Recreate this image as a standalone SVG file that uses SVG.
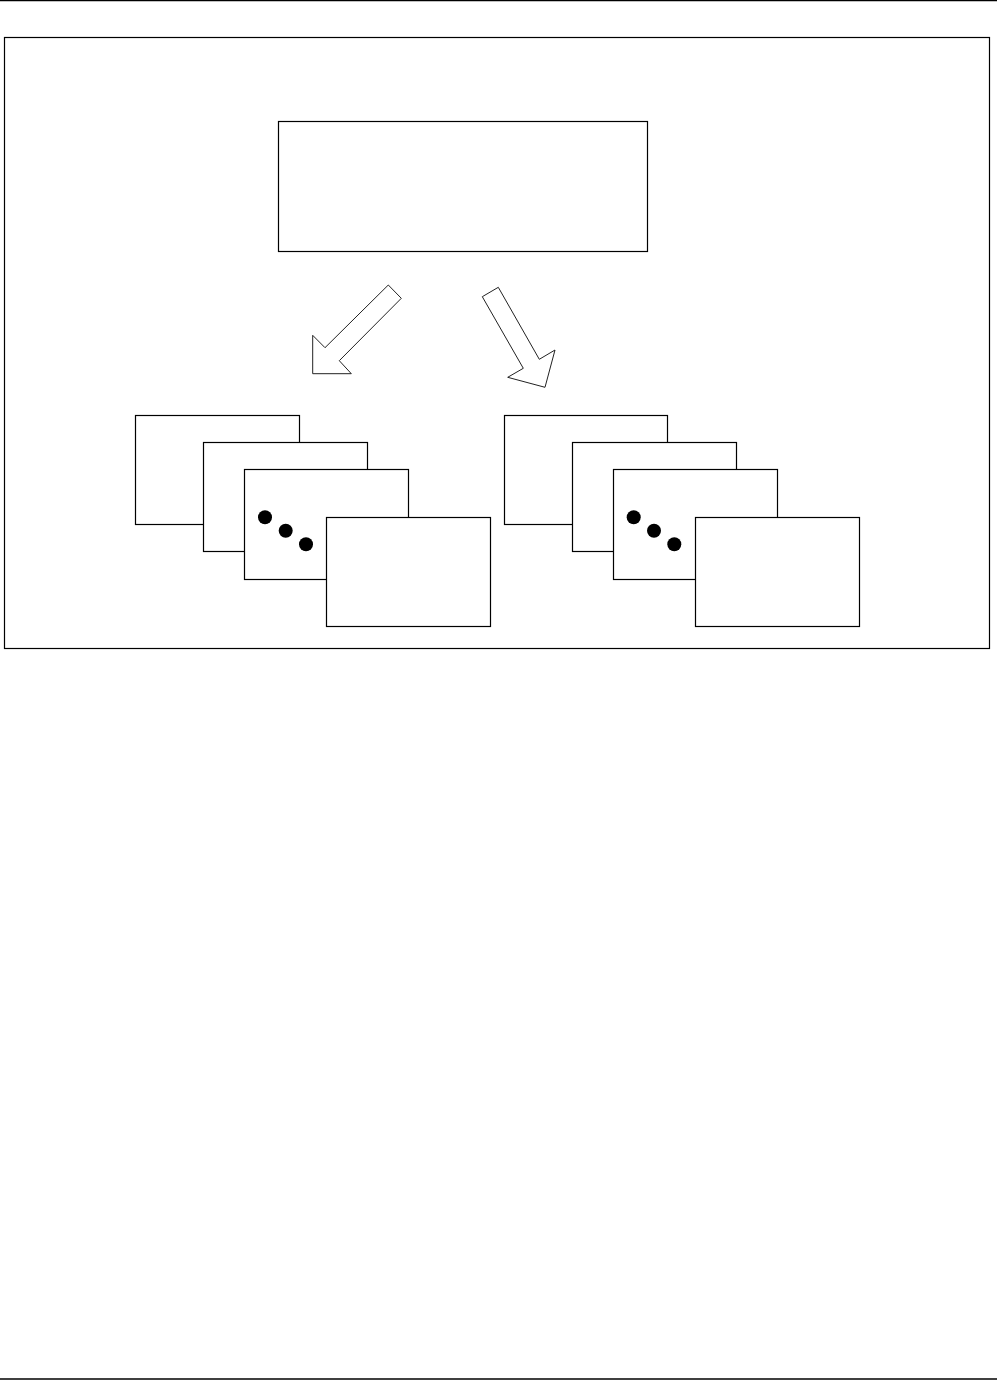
<svg xmlns="http://www.w3.org/2000/svg" width="997" height="1380" viewBox="0 0 997 1380">
<style>
.box{fill:#fff;stroke:#000;stroke-width:1.2}
.arrow{fill:#fff;stroke:#222;stroke-width:1}
.dot{fill:#000}
</style>
<rect width="997" height="1380" fill="#fff"/>
<line x1="0" y1="0.5" x2="997" y2="0.5" stroke="#000" stroke-width="1.5"/>
<line x1="0" y1="1379" x2="997" y2="1379" stroke="#000" stroke-width="1.5"/>
<rect id="frame" x="4.5" y="37.5" width="985" height="611" fill="none" stroke="#000" stroke-width="1.2"/>
<g id="top-box"><rect class="box" x="278.5" y="121.5" width="369" height="130"/></g>
<g id="connectors">
<polygon class="arrow" points="388.3,285 401.3,298.3 339.3,360.7 351.3,373.7 312.7,373.7 312.7,335.3 325,347.7"/>
<polygon class="arrow" points="482.3,296.7 498.3,287.3 539.3,359.3 555,350 545,387.3 507.7,377.3 523.3,368.3"/>
</g>
<g id="left-stack">
<rect class="box" x="135.5" y="415.5" width="164" height="109"/>
<rect class="box" x="203.5" y="442.5" width="164" height="109"/>
<rect class="box" x="244.5" y="469.5" width="164" height="110"/>
<circle class="dot" cx="265" cy="517.3" r="7"/>
<circle class="dot" cx="285.7" cy="530.7" r="7"/>
<circle class="dot" cx="306" cy="544.3" r="7"/>
<rect class="box" x="326.5" y="517.5" width="164" height="109"/>
</g>
<g id="right-stack">
<rect class="box" x="504.5" y="415.5" width="163" height="109"/>
<rect class="box" x="572.5" y="442.5" width="164" height="109"/>
<rect class="box" x="613.5" y="469.5" width="164" height="110"/>
<circle class="dot" cx="633.7" cy="517.3" r="7"/>
<circle class="dot" cx="654" cy="530.7" r="7"/>
<circle class="dot" cx="674.3" cy="544.3" r="7"/>
<rect class="box" x="695.5" y="517.5" width="164" height="109"/>
</g>
</svg>
